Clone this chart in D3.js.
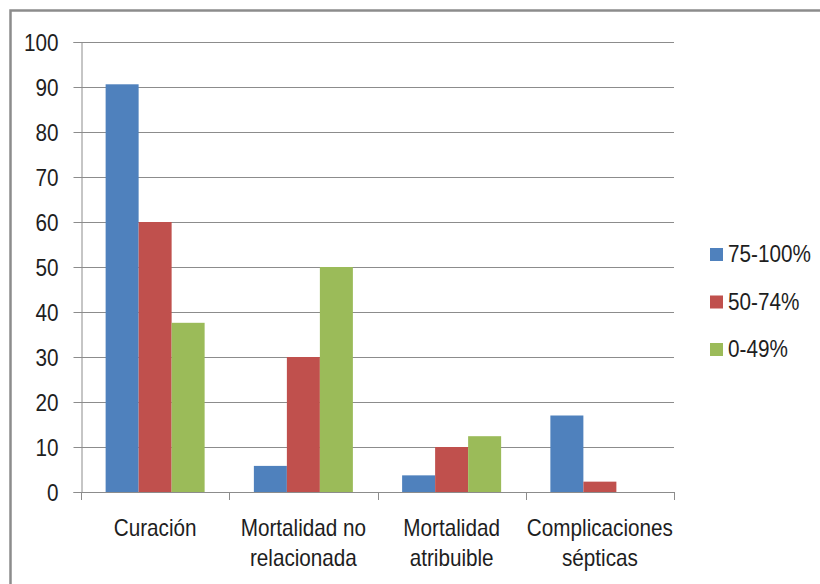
<!DOCTYPE html>
<html>
<head>
<meta charset="utf-8">
<script src="https://cdn.jsdelivr.net/npm/d3@7"></script>
<style>
  html, body { margin: 0; padding: 0; background: #fff; }
  svg { display: block; }
  text { font-family: "Liberation Sans", Arial, sans-serif; fill: #1e1e1e; }
</style>
</head>
<body>
<svg id="chart" width="820" height="584"></svg>
<script>
const categories = ["Curación", "Mortalidad no relacionada", "Mortalidad atribuible", "Complicaciones sépticas"];
const categoryLines = [["Curación"], ["Mortalidad no", "relacionada"], ["Mortalidad", "atribuible"], ["Complicaciones", "sépticas"]];
const seriesNames = ["75-100%", "50-74%", "0-49%"];
const values7500 = [90.6, 5.8, 3.7, 17.0];
const values5074 = [60, 30, 10, 2.3];
const values0049 = [37.6, 50, 12.4, 0];
const seriesValues = [values7500, values5074, values0049];
const colors = ["#4F81BD", "#C0504D", "#9BBB59"];
const yTicks = [0, 10, 20, 30, 40, 50, 60, 70, 80, 90, 100];

const svg = d3.select("#chart");
const fontSize = 23, sx = 0.9;

// outer frame
svg.append("rect").attr("x", 10.5).attr("y", 10.5).attr("width", 830).attr("height", 600)
  .attr("fill", "none").attr("stroke", "#8c8c8c").attr("stroke-width", 2.5);

const pLeft = 81, pRight = 674, pTop = 42, pBottom = 492;
const x0 = d3.scaleBand().domain(categories).range([pLeft, pRight]).paddingInner(0).paddingOuter(0);
const x1 = d3.scaleBand().domain(seriesNames).range([0, x0.bandwidth()]).paddingInner(0).paddingOuter(0.746);
const y = d3.scaleLinear().domain([0, 100]).range([pBottom, pTop]);

// gridlines
svg.append("g").selectAll("line").data(yTicks.filter(d => d > 0)).join("line")
  .attr("x1", pLeft).attr("x2", pRight)
  .attr("y1", d => Math.round(y(d)) + 0.5).attr("y2", d => Math.round(y(d)) + 0.5)
  .attr("stroke", "#8c8c8c").attr("stroke-width", 1);

// bars
const groups = svg.append("g").selectAll("g").data(categories).join("g")
  .attr("transform", d => `translate(${x0(d)},0)`);
groups.selectAll("rect").data((c, i) => seriesNames.map((s, j) => ({s, v: seriesValues[j][i], j})))
  .join("rect")
  .attr("x", d => x1(d.s)).attr("width", x1.bandwidth())
  .attr("y", d => y(d.v)).attr("height", d => y(0) - y(d.v))
  .attr("fill", d => colors[d.j]);

// y axis
const yAxis = d3.axisLeft(y).tickValues(yTicks).tickSize(8).tickPadding(0).tickFormat(d3.format("d"));
const gy = svg.append("g").attr("transform", `translate(${pLeft + 0.5},0)`).call(yAxis);
gy.select(".domain").attr("stroke", "#8c8c8c");
gy.selectAll(".tick line").attr("stroke", "#8c8c8c");
gy.selectAll(".tick text").remove();
gy.selectAll(".tick").append("g").attr("transform", "translate(-23,8) scale(" + sx + ",1)")
  .append("text").attr("text-anchor", "end").attr("font-size", fontSize)
  .text(d => d);

// x axis
const bounds = categories.map(c => x0(c)).concat([pRight]);
svg.append("line").attr("x1", pLeft).attr("x2", pRight).attr("y1", pBottom + 0.5).attr("y2", pBottom + 0.5)
  .attr("stroke", "#8c8c8c");
svg.append("g").selectAll("line").data(bounds).join("line")
  .attr("x1", d => Math.round(d) + 0.5).attr("x2", d => Math.round(d) + 0.5)
  .attr("y1", pBottom).attr("y2", pBottom + 8).attr("stroke", "#8c8c8c");

const lab = svg.append("g").selectAll("g").data(categories).join("g")
  .attr("transform", d => `translate(${x0(d) + x0.bandwidth() / 2},0) scale(${sx},1)`);
lab.each(function(c, i) {
  d3.select(this).selectAll("text").data(categoryLines[i]).join("text")
    .attr("text-anchor", "middle").attr("font-size", fontSize)
    .attr("y", (d, k) => 536 + k * 30).text(d => d);
});

// legend
const leg = svg.append("g").selectAll("g").data(seriesNames).join("g")
  .attr("transform", (d, i) => `translate(710,${248 + i * 47.5})`);
leg.append("rect").attr("width", 13).attr("height", 13).attr("fill", (d, i) => colors[i]);
leg.append("g").attr("transform", `translate(18,14) scale(${sx},1)`)
  .append("text").attr("font-size", fontSize).text(d => d);
</script>
</body>
</html>
